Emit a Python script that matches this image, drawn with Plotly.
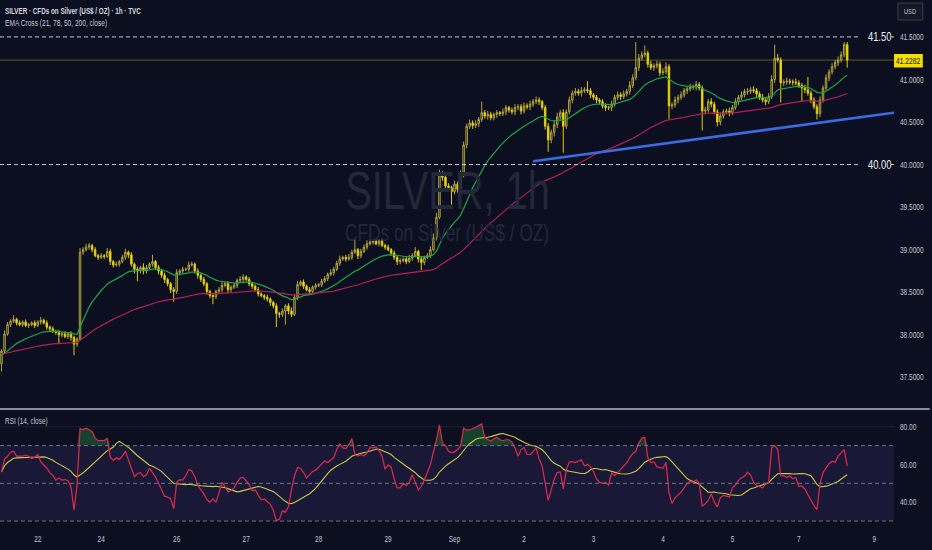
import plotly.graph_objects as go
from plotly.subplots import make_subplots

# ---------------- data ----------------
first_open = 37.66
close = [
    37.81, 38.01, 38.12, 38.16, 38.18, 38.14, 38.12, 38.15, 38.11, 38.12,
    38.14, 38.11, 38.15, 38.17, 38.14, 38.09, 38.07, 38.04, 38.03, 38.00,
    38.01, 37.98, 38.01, 37.97, 37.89, 37.95, 38.97, 39.00, 39.03, 39.05,
    39.00, 38.93, 38.91, 38.93, 38.92, 38.98, 38.86, 38.82, 38.83, 38.86,
    38.91, 38.97, 38.94, 38.83, 38.77, 38.75, 38.79, 38.75, 38.79, 38.83,
    38.86, 38.79, 38.75, 38.70, 38.65, 38.60, 38.53, 38.51, 38.73, 38.75,
    38.77, 38.77, 38.82, 38.83, 38.75, 38.70, 38.65, 38.60, 38.51, 38.46,
    38.45, 38.51, 38.53, 38.58, 38.60, 38.53, 38.56, 38.58, 38.64, 38.65,
    38.68, 38.65, 38.60, 38.57, 38.53, 38.48, 38.46, 38.44, 38.42, 38.38,
    38.34, 38.25, 38.24, 38.28, 38.34, 38.28, 38.24, 38.44, 38.59, 38.62,
    38.57, 38.53, 38.51, 38.56, 38.58, 38.59, 38.63, 38.66, 38.71, 38.73,
    38.77, 38.84, 38.89, 38.91, 38.89, 38.91, 38.97, 39.00, 38.93, 38.98,
    39.03, 39.07, 39.09, 39.10, 39.07, 39.10, 39.05, 39.03, 39.00, 38.96,
    38.91, 38.86, 38.87, 38.89, 38.86, 38.90, 38.93, 38.98, 38.89, 38.85,
    38.91, 38.93, 39.00, 39.14, 39.38, 39.88, 39.85, 39.75, 39.73, 39.68,
    39.77, 39.71, 39.88, 40.23, 40.45, 40.49, 40.46, 40.48, 40.53, 40.61,
    40.57, 40.59, 40.55, 40.59, 40.61, 40.60, 40.62, 40.67, 40.64, 40.62,
    40.67, 40.68, 40.63, 40.69, 40.68, 40.71, 40.74, 40.76, 40.74, 40.67,
    40.45, 40.29, 40.38, 40.47, 40.56, 40.61, 40.45, 40.62, 40.76, 40.84,
    40.86, 40.84, 40.87, 40.88, 40.87, 40.82, 40.79, 40.76, 40.74, 40.69,
    40.67, 40.67, 40.71, 40.79, 40.82, 40.80, 40.83, 40.86, 40.93, 41.02,
    41.14, 41.25, 41.29, 41.31, 41.18, 41.14, 41.16, 41.18, 41.08, 41.09,
    41.15, 40.69, 40.70, 40.76, 40.79, 40.82, 40.87, 40.89, 40.91, 40.91,
    40.94, 40.90, 40.63, 40.64, 40.74, 40.71, 40.62, 40.50, 40.57, 40.62,
    40.63, 40.61, 40.67, 40.74, 40.79, 40.82, 40.86, 40.86, 40.88, 40.87,
    40.83, 40.79, 40.76, 40.74, 40.80, 41.00, 41.25, 41.23, 40.96, 40.97,
    40.98, 40.97, 40.97, 40.96, 40.93, 40.90, 40.88, 40.84, 40.76, 40.68,
    40.60, 40.76, 40.90, 41.02, 41.09, 41.15, 41.20, 41.23, 41.29, 41.41,
    41.2282,
]
# upper / lower wick lengths in cents beyond the candle body
up_wick = [
    2, 4, 3, 2, 5, 2, 3, 2, 3, 2, 2, 3, 2, 4, 2, 3, 2, 3, 2, 3,
    2, 3, 2, 3, 2, 2, 5, 3, 4, 3, 2, 3, 2, 3, 2, 4, 3, 2, 3, 2,
    3, 4, 2, 3, 2, 3, 2, 5, 3, 2, 8, 2, 3, 2, 3, 2, 2, 3, 4, 2,
    3, 2, 4, 3, 2, 3, 2, 3, 2, 2, 3, 2, 3, 4, 2, 3, 2, 3, 2, 4,
    3, 2, 3, 2, 2, 3, 2, 2, 3, 2, 2, 3, 2, 3, 2, 3, 4, 3, 4, 2,
    3, 2, 3, 2, 3, 2, 3, 3, 2, 4, 3, 3, 4, 2, 3, 4, 3, 12, 2, 3,
    3, 4, 3, 2, 3, 2, 3, 2, 3, 2, 3, 2, 3, 2, 3, 4, 3, 5, 2, 3,
    2, 3, 4, 5, 5, 6, 4, 3, 3, 2, 4, 3, 5, 4, 3, 4, 3, 4, 3, 13,
    3, 4, 3, 2, 3, 2, 4, 3, 2, 3, 4, 3, 3, 4, 3, 4, 3, 4, 3, 2,
    3, 4, 3, 4, 5, 3, 4, 3, 4, 3, 4, 3, 4, 3, 10, 3, 2, 3, 2, 3,
    3, 2, 4, 3, 4, 3, 4, 3, 5, 4, 30, 5, 4, 9, 3, 4, 3, 4, 3, 4,
    5, 3, 3, 4, 3, 4, 3, 3, 4, 3, 4, 3, 3, 4, 3, 4, 3, 3, 4, 3,
    3, 4, 3, 4, 3, 4, 3, 4, 3, 4, 3, 3, 4, 3, 4, 5, 16, 5, 3, 3,
    4, 3, 3, 4, 3, 3, 4, 15, 3, 3, 3, 4, 3, 4, 3, 4, 3, 4, 4, 3,
    3,
]
down_wick = [
    9, 3, 2, 3, 2, 3, 2, 3, 2, 3, 2, 3, 2, 3, 2, 3, 4, 2, 3, 11,
    3, 2, 3, 4, 13, 3, 2, 3, 2, 3, 3, 2, 3, 2, 3, 2, 4, 3, 2, 3,
    2, 3, 4, 3, 5, 12, 3, 4, 3, 2, 3, 3, 4, 3, 4, 3, 4, 12, 3, 2,
    3, 2, 3, 2, 3, 4, 3, 3, 4, 3, 9, 3, 2, 3, 2, 4, 3, 2, 3, 2,
    3, 2, 3, 3, 2, 3, 2, 3, 3, 4, 3, 16, 4, 3, 16, 4, 3, 2, 3, 2,
    3, 2, 3, 2, 3, 2, 3, 2, 3, 2, 3, 2, 3, 2, 3, 2, 3, 2, 4, 3,
    2, 3, 2, 3, 2, 3, 2, 3, 2, 3, 3, 4, 3, 2, 3, 2, 3, 2, 4, 9,
    3, 2, 3, 2, 3, 2, 4, 3, 4, 15, 3, 4, 3, 3, 4, 3, 4, 3, 4, 3,
    3, 4, 3, 3, 4, 3, 3, 4, 3, 3, 4, 3, 4, 3, 3, 4, 3, 3, 4, 3,
    4, 14, 4, 5, 4, 3, 31, 3, 3, 4, 3, 3, 4, 3, 3, 4, 3, 4, 3, 3,
    4, 3, 4, 3, 3, 4, 3, 3, 4, 3, 3, 4, 3, 3, 4, 3, 4, 3, 4, 3,
    3, 16, 4, 3, 4, 3, 3, 4, 3, 3, 4, 3, 23, 4, 3, 4, 3, 5, 4, 3,
    3, 4, 3, 3, 4, 3, 3, 4, 3, 3, 4, 3, 3, 4, 3, 3, 4, 3, 23, 4,
    3, 3, 4, 3, 3, 16, 4, 3, 4, 3, 7, 4, 3, 3, 4, 3, 3, 4, 3, 3,
    9,
]
# RSI(14) values
rsi = [
    56.0, 62.7, 64.4, 66.5, 67.0, 64.4, 64.4, 64.4, 65.0, 64.4,
    63.2, 63.9, 65.3, 61.3, 59.7, 58.0, 55.7, 54.2, 51.7, 52.8,
    51.7, 52.0, 51.4, 48.3, 35.7, 48.8, 78.9, 78.5, 79.2, 78.5,
    77.5, 74.0, 72.6, 72.8, 72.6, 74.0, 63.9, 62.2, 63.6, 62.7,
    64.3, 67.0, 62.7, 57.5, 53.5, 55.2, 55.7, 53.5, 54.5, 58.0,
    55.7, 53.3, 50.0, 46.5, 43.2, 42.7, 41.7, 36.6, 50.5, 52.0,
    51.7, 54.0, 57.3, 56.6, 53.5, 48.8, 46.7, 44.4, 41.3, 40.0,
    41.8, 40.0, 44.8, 50.5, 48.3, 45.5, 46.2, 47.6, 50.5, 52.8,
    53.1, 51.4, 49.3, 46.2, 46.5, 43.6, 41.3, 41.7, 40.4, 38.9,
    35.7, 30.2, 30.9, 35.4, 34.7, 37.5, 46.5, 54.0, 58.3, 58.0,
    55.7, 52.8, 54.5, 56.3, 57.0, 58.7, 60.1, 61.8, 61.0, 62.5,
    63.6, 67.9, 70.9, 68.8, 68.4, 70.5, 73.7, 65.3, 64.4, 65.3,
    64.6, 66.0, 69.1, 68.8, 69.3, 67.4, 64.4, 57.5, 59.7, 58.7,
    52.3, 47.6, 47.6, 50.0, 48.8, 50.5, 54.5, 50.5, 46.5, 48.3,
    51.7, 55.7, 60.0, 66.0, 73.0, 81.0, 71.0, 70.0, 67.0, 66.2,
    66.7, 67.9, 69.7, 79.2, 78.3, 78.3, 78.9, 79.7, 80.6, 81.5,
    74.3, 73.3, 72.3, 73.7, 74.5, 73.1, 72.6, 73.1, 73.1, 71.9,
    68.8, 64.4, 67.9, 69.1, 65.3, 65.3, 66.7, 68.8, 62.9, 59.2,
    50.5, 41.0, 46.5, 52.3, 55.7, 56.0, 47.0, 57.0, 61.3, 61.5,
    61.0, 61.8, 62.5, 59.2, 60.1, 58.7, 56.3, 52.3, 50.5, 50.0,
    50.5, 49.0, 55.4, 54.0, 55.6, 57.1, 58.7, 60.8, 63.6, 65.7,
    67.0, 71.4, 74.0, 74.3, 63.6, 61.0, 61.5, 58.7, 58.3, 58.0,
    61.0, 45.0, 39.2, 42.3, 43.9, 45.3, 47.6, 50.0, 51.0, 50.5,
    51.9, 50.0, 38.0, 39.0, 41.0, 44.4, 40.1, 37.5, 42.3, 43.6,
    43.2, 42.7, 47.6, 49.1, 51.4, 53.0, 53.8, 55.9, 54.5, 50.5,
    48.8, 48.3, 47.6, 49.7, 50.5, 68.8, 70.0, 68.0, 54.0, 54.0,
    53.1, 54.0, 52.4, 53.1, 48.3, 48.6, 47.0, 43.9, 40.6, 38.2,
    36.1, 49.7, 55.7, 58.2, 60.4, 61.7, 61.1, 64.4, 66.2, 67.9,
    59.2,
]

tick_index = [12, 33, 58, 81, 105, 128, 150, 173, 196, 219, 242, 264, 289]
tick_text = ["22", "24", "26", "27", "28", "29", "Sep", "2", "3", "4", "5", "7", "9"]

price_ticks = [37.5, 38.0, 38.5, 39.0, 39.5, 40.0, 40.5, 41.0, 41.5]
rsi_ticks = [40, 60, 80]
key_levels = [41.50, 40.00]
last_price = 41.2282
trend_x = [176, 295.5]
trend_y = [40.04, 40.61]

ema_fast_len, ema_slow_len = 21, 78
ema_fast_seed, ema_slow_seed = 37.75, 37.77
rsi_ma_len = 14

# ---------------- derived series ----------------
n = len(close)
xs = list(range(n))
opens = [first_open] + close[:-1]
highs = [max(o, c) + u / 100 for o, c, u in zip(opens, close, up_wick)]
lows = [min(o, c) - d / 100 for o, c, d in zip(opens, close, down_wick)]


def ema(vals, length, seed):
    a = 2 / (length + 1)
    e = seed
    out = []
    for v in vals:
        e = e + a * (v - e)
        out.append(e)
    return out


ema_fast = ema(close, ema_fast_len, ema_fast_seed)
ema_slow = ema(close, ema_slow_len, ema_slow_seed)
rsi_ma = []
for i in range(n):
    w = rsi[max(0, i - rsi_ma_len + 1): i + 1]
    rsi_ma.append(sum(w) / len(w))

# ---------------- figure ----------------
BG = "#0c0f1f"
TXT = "#c3c6cf"
FONT = "Liberation Sans, Arial, sans-serif"
X0, X1 = -0.5, 295.5
PAPER_H = 528.0  # plot-area height in px (550 - bottom margin)


def py(pix):  # pixel row -> paper y
    return (PAPER_H - pix) / PAPER_H


def px(pix):  # pixel column -> paper x
    return pix / 900.0


fig = make_subplots(rows=2, cols=1, shared_xaxes=True, vertical_spacing=0.004)

fig.add_trace(go.Candlestick(
    x=xs, open=opens, high=highs, low=lows, close=close,
    increasing=dict(line=dict(color="#b4a63a", width=1), fillcolor="rgba(0,0,0,0)"),
    decreasing=dict(line=dict(color="#e0cc10", width=1), fillcolor="#ffe600"),
    whiskerwidth=0, hoverinfo="skip", showlegend=False), row=1, col=1)

fig.add_trace(go.Scatter(x=xs, y=ema_fast, mode="lines",
                         line=dict(color="#1fa64a", width=1.2), hoverinfo="skip",
                         showlegend=False), row=1, col=1)
fig.add_trace(go.Scatter(x=xs, y=ema_slow, mode="lines",
                         line=dict(color="#b81f58", width=1.2), hoverinfo="skip",
                         showlegend=False), row=1, col=1)
fig.add_trace(go.Scatter(x=trend_x, y=trend_y, mode="lines",
                         line=dict(color="#3b6be3", width=2.6), hoverinfo="skip",
                         showlegend=False), row=1, col=1)

# RSI pane
fig.add_trace(go.Scatter(x=xs, y=[70] * n, mode="lines", line=dict(width=0, color="rgba(0,0,0,0)"),
                         hoverinfo="skip", showlegend=False), row=2, col=1)
fig.add_trace(go.Scatter(x=xs, y=[max(r, 70) for r in rsi], mode="lines",
                         line=dict(width=0, color="rgba(0,0,0,0)"), fill="tonexty",
                         fillcolor="rgba(30,115,60,0.5)", hoverinfo="skip",
                         showlegend=False), row=2, col=1)
fig.add_trace(go.Scatter(x=xs, y=rsi_ma, mode="lines",
                         line=dict(color="#c9c94a", width=1.1), hoverinfo="skip",
                         showlegend=False), row=2, col=1)
fig.add_trace(go.Scatter(x=xs, y=rsi, mode="lines",
                         line=dict(color="#e2294b", width=1.2), hoverinfo="skip",
                         showlegend=False), row=2, col=1)

shapes = []
shapes.append(dict(type="rect", xref="x2", yref="y2", x0=X0, x1=X1, y0=30, y1=70,
                   fillcolor="rgba(120,100,230,0.12)", line=dict(width=0), layer="below"))
shapes.append(dict(type="line", xref="x2", yref="y2", x0=X0, x1=X1, y0=80, y1=80,
                   line=dict(color="#1b2033", width=1), layer="below"))
for lv in (70, 50, 30):
    shapes.append(dict(type="line", xref="x2", yref="y2", x0=X0, x1=X1, y0=lv, y1=lv,
                       line=dict(color="#6f7384", width=1, dash="4px,3px")))
for lv in key_levels:
    shapes.append(dict(type="line", xref="x", yref="y", x0=X0, x1=284.3, y0=lv, y1=lv,
                       line=dict(color="#c9cbd3", width=1, dash="4px,3px")))
    shapes.append(dict(type="line", xref="paper", yref="y", x0=px(897), x1=px(900), y0=lv, y1=lv,
                       line=dict(color="#c9cbd3", width=1)))
shapes.append(dict(type="line", xref="x", yref="y", x0=X0, x1=X1, y0=last_price, y1=last_price,
                   line=dict(color="#5e5b26", width=1), layer="below"))
shapes.append(dict(type="line", xref="paper", yref="paper", x0=0, x1=1.04, y0=py(409), y1=py(409),
                   line=dict(color="#b3b6bf", width=1.5)))
# last-price tag and USD box
shapes.append(dict(type="rect", xref="paper", yref="paper", x0=px(900), x1=px(929),
                   y0=py(67.5), y1=py(54), fillcolor="#f2df00", line=dict(width=0)))
shapes.append(dict(type="rect", xref="paper", yref="paper", x0=px(904), x1=px(929),
                   y0=py(20), y1=py(3), fillcolor="#141825", line=dict(color="#3a3e4d", width=1)))

annotations = []


def note(text, x, y, size, color, xanchor="center", bold=False, xref="paper", yref="paper"):
    annotations.append(dict(text=f"<b>{text}</b>" if bold else text, xref=xref, yref=yref,
                            x=x, y=y, xanchor=xanchor, yanchor="middle",
                            align="left" if xanchor == "left" else "center",
                            showarrow=False, font=dict(family=FONT, size=size, color=color)))


note("SILVER, 1h", 0.5, py(190), 53, "#23273a")
note("CFDs on Silver (US$ / OZ)", 0.5, py(233), 23, "#23273a")
note("SILVER · CFDs on Silver (US$ / OZ) · 1h · TVC", px(3), py(10.5), 8.4, "#d6d8df",
     xanchor="left", bold=True)
note("EMA Cross (21, 78, 50, 200, close)", px(3), py(23), 8.8, TXT, xanchor="left")
note("RSI (14, close)", px(3), py(421), 8.6, TXT, xanchor="left")
for lv in key_levels:
    note(f"{lv:.2f}", px(885), lv, 12.5, "#eceef2", yref="y")
note(f"{last_price:.4f}", px(914.5), py(60.8), 8.9, "#131722")
note("USD", px(916.5), py(11.5), 7.6, TXT)

fig.update_layout(
    width=932, height=550,
    margin=dict(l=0, r=32, t=0, b=22),
    paper_bgcolor=BG, plot_bgcolor=BG,
    showlegend=False,
    shapes=shapes, annotations=annotations,
    font=dict(family=FONT, color=TXT, size=9),
)
fig.update_xaxes(range=[X0, X1], showgrid=False, zeroline=False, showline=False,
                 rangeslider=dict(visible=False), fixedrange=True)
fig.update_xaxes(showticklabels=False, row=1, col=1)
fig.update_xaxes(tickmode="array", tickvals=tick_index, ticktext=tick_text, ticks="",
                 ticklabelstandoff=4,
                 tickfont=dict(family=FONT, size=8.6, color=TXT), row=2, col=1)
fig.update_layout(
    yaxis=dict(domain=[0.2273, 1], range=[37.14, 41.934], side="right", showgrid=False,
               zeroline=False, tickmode="array", tickvals=price_ticks,
               ticktext=[f"{v:.4f}" for v in price_ticks], ticks="", ticklabelstandoff=5,
               tickfont=dict(family=FONT, size=8.7, color=TXT), fixedrange=True),
    yaxis2=dict(domain=[0, 0.2235], range=[26.3, 88.9], side="right", showgrid=False,
                zeroline=False, tickmode="array", tickvals=rsi_ticks,
                ticktext=[f"{v:.2f}" for v in rsi_ticks], ticks="", ticklabelstandoff=5,
                tickfont=dict(family=FONT, size=8.7, color=TXT), fixedrange=True),
)

# remove the page margin and give all text the condensed look of the reference
post = """
document.body.style.margin='0';
document.body.style.overflow='hidden';
var gd=document.getElementById('{plot_id}');
var S=0.75;
gd.querySelectorAll('text').forEach(function(t){
  if (t.getAttribute('data-sq')) return;
  var x=parseFloat(t.getAttribute('x')||'0');
  var y=parseFloat(t.getAttribute('y')||'0');
  var tr=t.getAttribute('transform')||'';
  t.setAttribute('transform', tr+' translate('+x+','+y+') scale('+S+',1) translate('+(-x)+','+(-y)+')');
  t.setAttribute('data-sq','1');
});
"""
fig.write_html("out.html", post_script=post,
               config={"displayModeBar": False, "staticPlot": True})
